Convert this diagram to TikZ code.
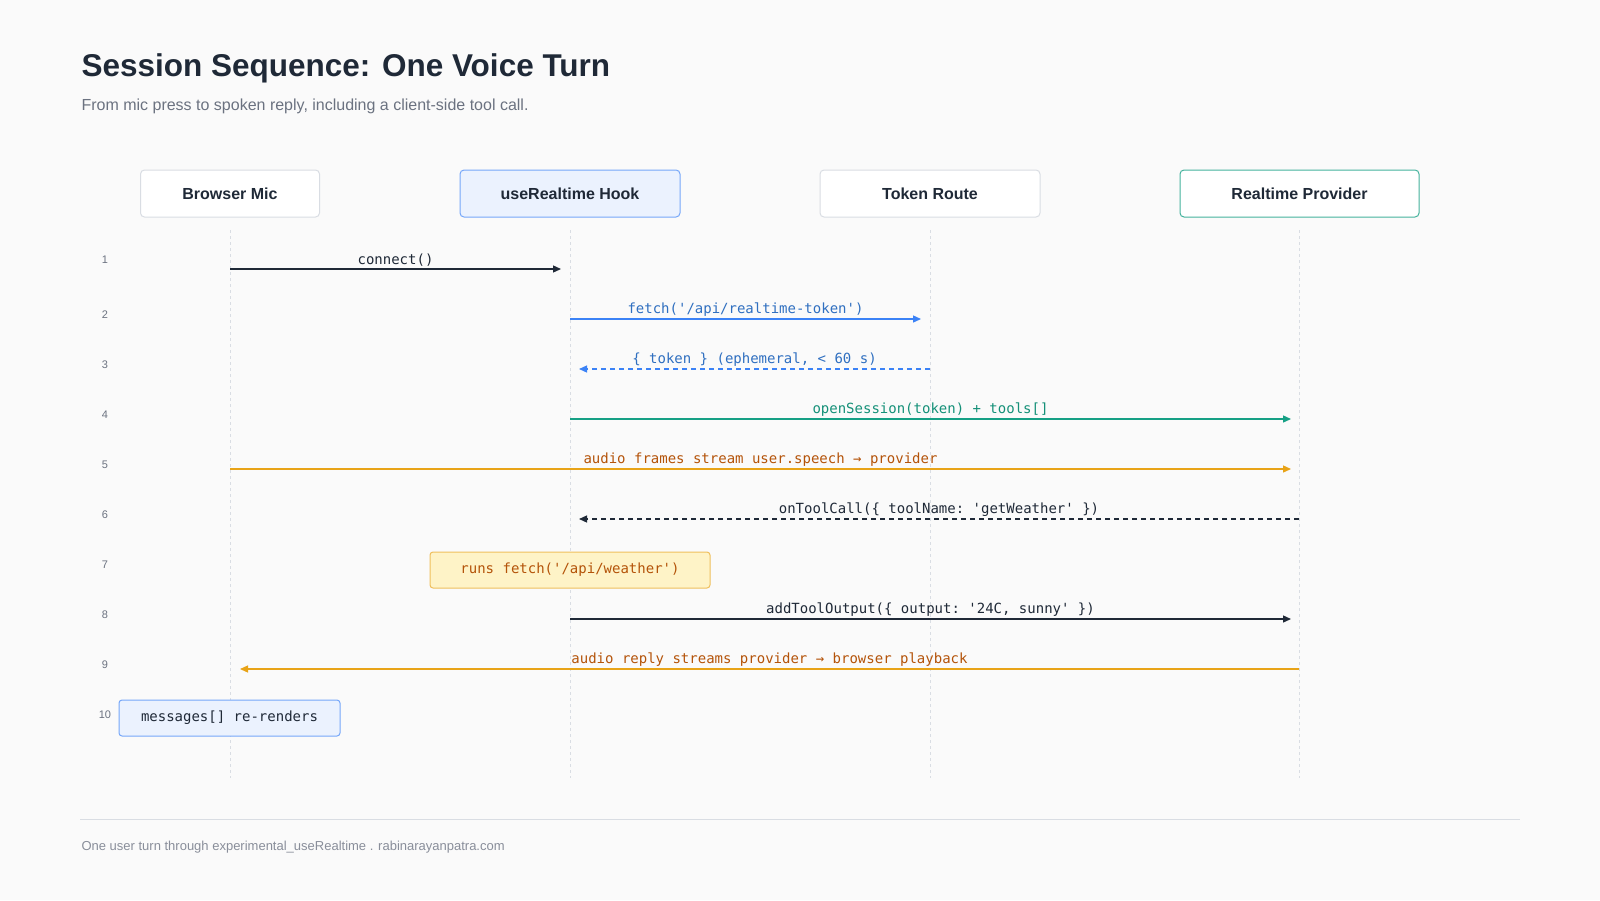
\documentclass[tikz,border=0pt]{standalone}
\usepackage{fontspec}
\setmainfont{Liberation Sans}
\setmonofont{DejaVu Sans Mono}
\usetikzlibrary{arrows.meta}
\definecolor{bg}{HTML}{FAFAFA}
\definecolor{ink}{HTML}{1F2937}
\definecolor{sub}{HTML}{6B7280}
\definecolor{bl}{HTML}{3B82F6}
\definecolor{blt}{HTML}{2F6FC0}
\definecolor{gr}{HTML}{16A085}
\definecolor{orl}{HTML}{E8A317}
\definecolor{ort}{HTML}{B45309}
\definecolor{life}{HTML}{D9DDE3}
\definecolor{notey}{HTML}{FEF3C7}
\begin{document}
\begin{tikzpicture}[x=1pt,y=-1pt,
 actor/.style={draw=#1,line width=1pt,rounded corners=4pt,fill=white,font=\fontsize{16}{18}\selectfont\bfseries,text=ink},
 msg/.style={line width=1.3pt,-{Triangle[length=8pt,width=7pt]}},
 lbl/.style={font=\ttfamily\fontsize{14}{16}\selectfont,anchor=south,inner sep=2pt},
 num/.style={font=\fontsize{11}{12}\selectfont,text=sub},
 lifeline/.style={draw=life,dashed,line width=0.8pt}]
\fill[bg] (0,0) rectangle (1600,900);
\useasboundingbox (0,0) rectangle (1600,900);
\node[anchor=west,font=\fontsize{31.5}{36}\selectfont\bfseries,text=ink] (title) at (78,68) {Session Sequence: One Voice Turn};
\node[anchor=west,font=\fontsize{16}{18}\selectfont,text=sub] (subt) at (78,106) {From mic press to spoken reply, including a client-side tool call.};
% actors
\node[actor=life,minimum width=179pt,minimum height=47pt] (A) at (230,193.5) {Browser Mic};
\node[actor=bl!70,fill=bl!10,minimum width=220pt,minimum height=47pt] (B) at (570,193.5) {useRealtime Hook};
\node[actor=life,minimum width=220pt,minimum height=47pt] (C) at (930,193.5) {Token Route};
\node[actor=gr!80,minimum width=239pt,minimum height=47pt] (D) at (1299.5,193.5) {Realtime Provider};
% lifelines
\foreach \n/\x in {a/230,b/570,c/930,d/1299}{
 \coordinate (\n top) at (\x,230); \coordinate (\n bot) at (\x,778);
 \path[lifeline] (\n top) -- (\n bot);}
% row numbers
\foreach \i/\y in {1/260,2/315,3/365,4/415,5/465,6/515,7/565,8/615,9/665,10/715}
 \node[num] (n\i) at (105,\y) {\i};
% coordinates
\coordinate (a1) at (230,269); \coordinate (b1) at (561,269);
\coordinate (b2) at (570,319); \coordinate (c2) at (921,319);
\coordinate (c3) at (930,369); \coordinate (b3) at (579,369);
\coordinate (b4) at (570,419); \coordinate (d4) at (1291,419);
\coordinate (a5) at (230,469); \coordinate (d5) at (1291,469);
\coordinate (d6) at (1299,519); \coordinate (b6) at (579,519);
\coordinate (b8) at (570,619); \coordinate (d8) at (1291,619);
\coordinate (d9) at (1299,669); \coordinate (a9) at (240,669);
\draw[msg,ink] (a1) -- node[lbl,text=ink]{connect()} (b1);
\draw[msg,bl] (b2) -- node[lbl,text=blt]{fetch('/api/realtime-token')} (c2);
\draw[msg,bl,dashed,dash pattern=on 5pt off 4pt] (c3) -- node[lbl,text=blt]{\{ token \} (ephemeral, < 60 s)} (b3);
\draw[msg,gr] (b4) -- node[lbl,text=gr!90!black]{openSession(token) + tools[]} (d4);
\draw[msg,orl] (a5) -- node[lbl,text=ort]{audio frames stream user.speech → provider} (d5);
\draw[msg,ink,dash pattern=on 5pt off 4pt] (d6) -- node[lbl,text=ink]{onToolCall(\{ toolName: 'getWeather' \})} (b6);
\node[draw=orl!70,fill=notey,line width=1pt,rounded corners=3pt,minimum width=280pt,minimum height=36pt,font=\ttfamily\fontsize{14}{16}\selectfont,text=ort] (note7) at (570,570) {runs fetch('/api/weather')};
\draw[msg,ink] (b8) -- node[lbl,text=ink]{addToolOutput(\{ output: '24C, sunny' \})} (d8);
\draw[msg,orl] (d9) -- node[lbl,text=ort]{audio reply streams provider → browser playback} (a9);
\node[draw=bl!70,fill=bl!10,line width=1pt,rounded corners=3pt,minimum width=221pt,minimum height=36pt,font=\ttfamily\fontsize{14}{16}\selectfont,text=ink] (note10) at (229.5,718) {messages[] re-renders};
% footer
\coordinate (f1) at (80,819); \coordinate (f2) at (1520,819);
\draw[life,line width=0.8pt] (f1) -- (f2);
\node[anchor=west,font=\fontsize{13}{15}\selectfont,text=sub!80] (foot) at (78,847) {One user turn through experimental\_useRealtime . rabinarayanpatra.com};
\end{tikzpicture}
\end{document}
